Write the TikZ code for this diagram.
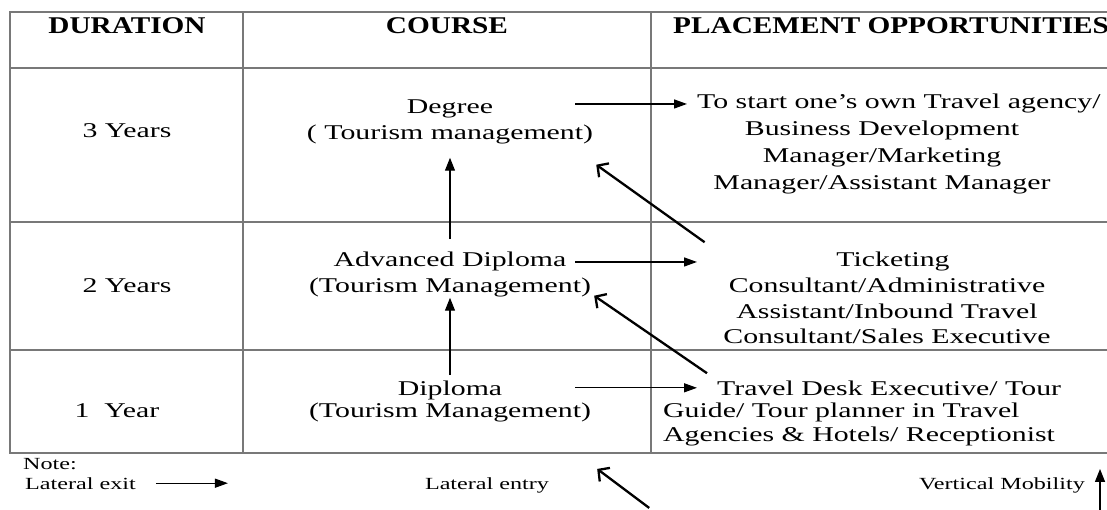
\documentclass[tikz,border=0pt]{standalone}
\usepackage{fontspec}
\setmainfont{Liberation Serif}
\newfontfamily\cellfont[FakeStretch=1.42]{Liberation Serif}
\newfontfamily\headfont[FakeStretch=1.22]{Liberation Serif}
\usetikzlibrary{arrows.meta}
\definecolor{rulegray}{RGB}{120,120,120}

\tikzset{
  rule/.style={draw=rulegray, line width=1.6pt},
  head/.style={inner sep=0pt, anchor=base, font=\headfont\bfseries\fontsize{24}{28}\selectfont},
  cell/.style={inner sep=0pt, anchor=base, font=\cellfont\fontsize{21}{26}\selectfont},
  note/.style={inner sep=0pt, anchor=base west, font=\cellfont\fontsize{17}{20}\selectfont},
  exit/.style={-{Triangle[length=13pt,width=9pt]}, line width=1.3pt},
  rise/.style={-{Triangle[length=13pt,width=10pt]}, line width=1.3pt},
  entry/.style={-{Straight Barb[length=8pt,width=17pt]}, line width=2.3pt},
}

\begin{document}
\begin{tikzpicture}[x=1pt, y=-1pt]
\useasboundingbox (0,0) rectangle (1107,510);

% table rules
\draw[rule] (1107,12) -- (10,12) -- (10,453) -- (1107,453);
\draw[rule] (10,68) -- (1107,68);
\draw[rule] (10,222) -- (1107,222);
\draw[rule] (10,350) -- (1107,350);
\draw[rule] (243,12) -- (243,453);
\draw[rule] (651,12) -- (651,453);

% header
\node[head] (hdur) at (127,34) {DURATION};
\node[head] (hcourse) at (447,34) {COURSE};
\node[head, anchor=base west] (hjob) at (673,34) {PLACEMENT OPPORTUNITIES};

% 3 years
\node[cell] (yr3) at (127,138) {3 Years};
\node[cell] (deg) at (450,114) {Degree};
\node[cell] (degsub) at (450,140) {( Tourism management)};
\node[cell, anchor=base west] (job3a) at (697,109) {To start one’s own Travel agency/};
\node[cell] (job3b) at (882,136) {Business Development};
\node[cell] (job3c) at (882,163) {Manager/Marketing};
\node[cell] (job3d) at (882,190) {Manager/Assistant Manager};

% 2 years
\node[cell] (yr2) at (127,292) {2 Years};
\node[cell] (adv) at (450,267) {Advanced Diploma};
\node[cell] (advsub) at (450,293) {(Tourism Management)};
\node[cell] (job2a) at (893,267) {Ticketing};
\node[cell] (job2b) at (887,293) {Consultant/Administrative};
\node[cell] (job2c) at (887,318) {Assistant/Inbound Travel};
\node[cell] (job2d) at (887,343) {Consultant/Sales Executive};

% 1 year
\node[cell] (yr1) at (117,417) {1\ \ Year};
\node[cell] (dip) at (450,395) {Diploma};
\node[cell] (dipsub) at (450,417) {(Tourism Management)};
\node[cell, anchor=base west] (job1a) at (717,395) {Travel Desk Executive/ Tour};
\node[cell, anchor=base west] (job1b) at (663,417) {Guide/ Tour planner in Travel};
\node[cell, anchor=base west] (job1c) at (663,441) {Agencies \& Hotels/ Receptionist};

% lateral exit
\coordinate (exitx) at (575,0);
\coordinate (jobx) at (697,0);
\draw[exit, shorten >=10pt] (job3a.west -| exitx) -- (job3a.west -| jobx);
\draw[exit] (job2a -| exitx) -- (job2a -| jobx);
\draw[exit] (job1a -| exitx) -- (job1a -| jobx);

% vertical mobility
\draw[rise, shorten <=13pt, shorten >=13pt] (adv.north) -- (degsub.south);
\draw[rise, shorten <=5pt] (dip.north) -- (advsub.south);

% lateral entry
\draw[entry] ([shift={(-24pt,36pt)}]job2b.north west) -- ([shift={(3pt,-20pt)}]degsub.south east);
\draw[entry] ([shift={(-10pt,7pt)}]job1a.north west) -- ([shift={(3pt,2pt)}]advsub.south east);

% note
\node[note] (note) at (23,469) {Note:};
\node[note] (lexit) at (25,489) {Lateral exit};
\node[note, anchor=base] (lentry) at (487,489) {Lateral entry};
\node[note, anchor=base east] (vmob) at (1085,489) {Vertical Mobility};
\draw[exit] ([xshift=20pt]lexit.east) -- ([xshift=92pt]lexit.east);
\draw[entry] ([shift={(100pt,-23pt)}]lentry.east) -- ([shift={(48pt,16pt)}]lentry.east);
\draw[rise] ([shift={(15pt,-26pt)}]vmob.east) -- ([shift={(15pt,16pt)}]vmob.east);
\end{tikzpicture}
\end{document}
